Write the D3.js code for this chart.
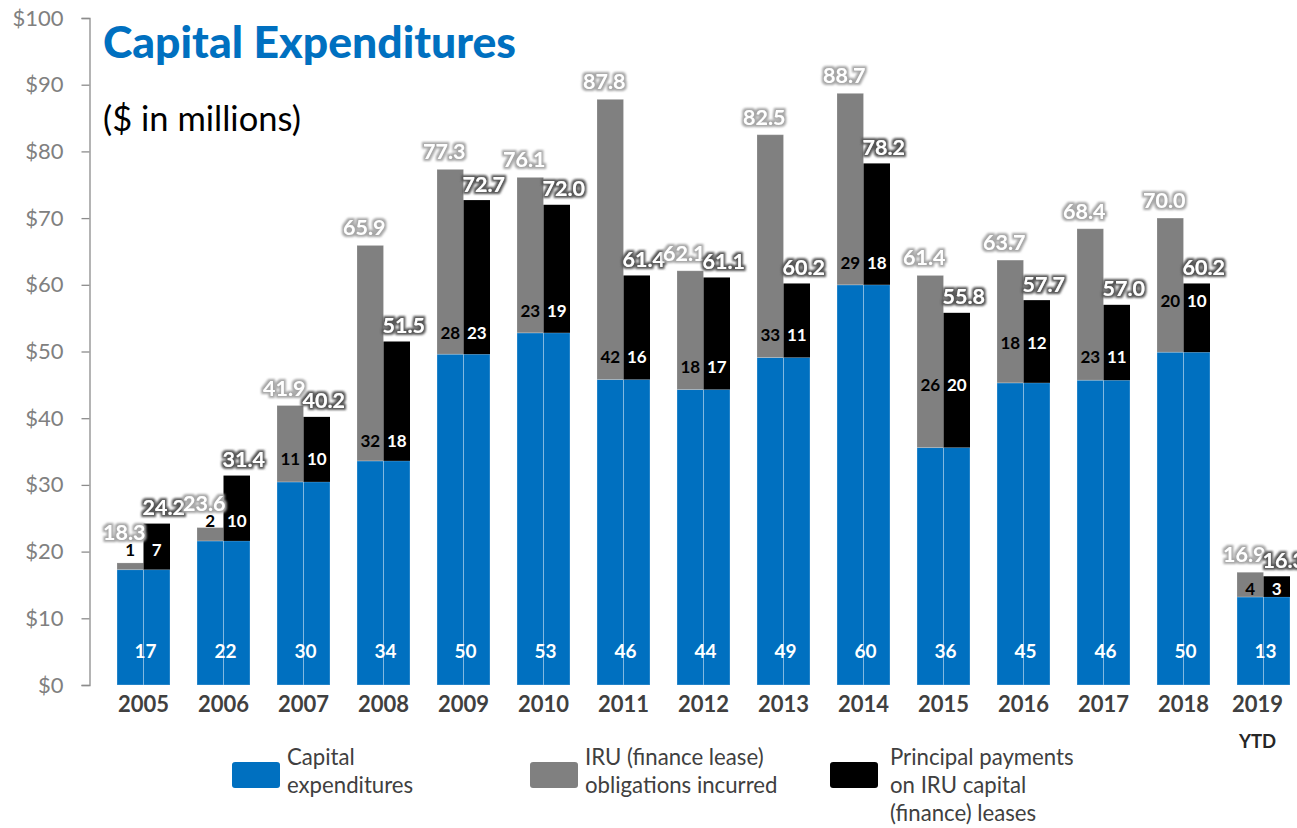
<!DOCTYPE html>
<html>
<head>
<meta charset="utf-8">
<script src="https://cdn.jsdelivr.net/npm/d3@7"></script>
<style>
  html, body { margin: 0; padding: 0; background: #fff; }
  svg { display: block; font-family: Lato, "Open Sans", sans-serif; }
</style>
</head>
<body>
<svg id="chart" width="1297" height="828"></svg>
<script>
// Capital expenditures by year ($ in millions)
const years = ["2005","2006","2007","2008","2009","2010","2011","2012","2013","2014","2015","2016","2017","2018","2019"];
const yearNotes = ["","","","","","","","","","","","","","","YTD"];
const capex = [17.3, 21.6, 30.45, 33.6, 49.6, 52.8, 45.8, 44.3, 49.1, 60.0, 35.6, 45.3, 45.7, 49.9, 13.2];
const iru = [1.0, 2.0, 11.45, 32.3, 27.7, 23.3, 42.0, 17.8, 33.4, 28.7, 25.8, 18.4, 22.7, 20.1, 3.7];
const principal = [6.9, 9.8, 9.75, 17.9, 23.1, 19.2, 15.6, 16.8, 11.1, 18.2, 20.2, 12.4, 11.3, 10.3, 3.1];
const yTicks = [0, 10, 20, 30, 40, 50, 60, 70, 80, 90, 100];

// Height (in $M) at which the IRU / principal labels sit inside each pair of bars
const segLabelAt = [20.3, 24.7, 33.9, 36.7, 52.8, 56.1, 49.3, 47.8, 52.5, 63.3, 45.0, 51.4, 49.2, 57.6, 14.5];
const capexLabelAt = 5.2;

const colors = { capex: "#0070c0", iru: "#808080", principal: "#000000" };
const legendItems = [
  { key: "capex", lines: ["Capital", "expenditures"] },
  { key: "iru", lines: ["IRU (finance lease)", "obligations incurred"] },
  { key: "principal", lines: ["Principal payments", "on IRU capital", "(finance) leases"] }
];

const svg = d3.select("#chart");

const y = d3.scaleLinear().domain([0, 100]).range([685, 18]);
const x = d3.scaleBand().domain(years).range([103.5, 1303.5]).paddingInner(0.3375).paddingOuter(0.16875);
const sub = d3.scaleBand().domain(["left", "right"]).range([0, x.bandwidth()]);

// glow filters for total labels
const defs = svg.append("defs");
function glow(id, color) {
  const f = defs.append("filter").attr("id", id).attr("x", "-20%").attr("y", "-30%").attr("width", "140%").attr("height", "160%");
  f.append("feMorphology").attr("in", "SourceAlpha").attr("operator", "dilate").attr("radius", 1.7).attr("result", "thick");
  f.append("feFlood").attr("flood-color", color).attr("result", "col");
  f.append("feComposite").attr("in", "col").attr("in2", "thick").attr("operator", "in").attr("result", "halo");
  f.append("feGaussianBlur").attr("in", "halo").attr("stdDeviation", 1).attr("result", "soft");
  const m = f.append("feMerge");
  m.append("feMergeNode").attr("in", "soft");
  m.append("feMergeNode").attr("in", "SourceGraphic");
}
glow("glowLight", "#a6a6a6");
glow("glowDark", "#555555");

// y axis
const yAxis = svg.append("g").attr("transform", "translate(89.5,0)")
  .call(d3.axisLeft(y).tickValues(yTicks).tickSize(8).tickPadding(18).tickFormat(d => "$" + d));
yAxis.select(".domain").attr("stroke", "#8c8c8c").attr("stroke-width", 1.3);
yAxis.selectAll(".tick line").attr("stroke", "#8c8c8c").attr("stroke-width", 1.3);
yAxis.selectAll(".tick text").attr("fill", "#808080").attr("font-size", 22)
  .attr("font-family", "Lato, sans-serif");

// bars
const rows = years.map((yr, i) => ({
  yr, i, capex: capex[i], iru: iru[i], principal: principal[i],
  leftTotal: capex[i] + iru[i], rightTotal: capex[i] + principal[i]
}));

const g = svg.append("g");
const groups = g.selectAll("g.year").data(rows).join("g")
  .attr("class", "year").attr("transform", d => `translate(${x(d.yr)},0)`);

const edge = "rgba(255,255,255,0.28)";
function bar(sel, side, lo, hi, color, stroke) {
  sel.append("rect")
    .attr("x", sub(side)).attr("width", sub.bandwidth())
    .attr("y", d => y(hi(d))).attr("height", d => y(lo(d)) - y(hi(d)))
    .attr("fill", color).attr("stroke", stroke).attr("stroke-width", 1);
}
bar(groups, "left", d => 0, d => d.capex, colors.capex, edge);
bar(groups, "right", d => 0, d => d.capex, colors.capex, edge);
bar(groups, "left", d => d.capex, d => d.leftTotal, colors.iru, "rgba(255,255,255,0.18)");
bar(groups, "right", d => d.capex, d => d.rightTotal, colors.principal, "none");

const fmtInt = v => String(Math.round(v));
const fmtTot = d3.format(".1f");

// capex labels
groups.append("text")
  .attr("x", x.bandwidth() / 2 + 2).attr("y", y(capexLabelAt))
  .attr("text-anchor", "middle").attr("dominant-baseline", "central")
  .attr("font-size", 19).attr("font-weight", 700).attr("fill", "#fff")
  .text(d => fmtInt(d.capex));

// IRU and principal labels
groups.append("text")
  .attr("x", sub("left") + sub.bandwidth() / 2).attr("y", d => y(segLabelAt[d.i]))
  .attr("text-anchor", "middle").attr("dominant-baseline", "central")
  .attr("font-size", 17).attr("font-weight", 700).attr("fill", "#000")
  .text(d => fmtInt(d.iru));
groups.append("text")
  .attr("x", sub("right") + sub.bandwidth() / 2).attr("y", d => y(segLabelAt[d.i]))
  .attr("text-anchor", "middle").attr("dominant-baseline", "central")
  .attr("font-size", 17).attr("font-weight", 700).attr("fill", "#fff")
  .text(d => fmtInt(d.principal));

// totals above each bar
groups.append("text")
  .attr("x", sub("left") + sub.bandwidth() / 2 - 6)
  .attr("y", d => Math.min(y(d.leftTotal) - 18, y(segLabelAt[d.i]) - 17.5))
  .attr("text-anchor", "middle").attr("dominant-baseline", "central")
  .attr("font-size", 21.5).attr("font-weight", 700).attr("fill", "#fff")
  .attr("filter", "url(#glowLight)")
  .text(d => fmtTot(d.leftTotal));
groups.append("text")
  .attr("x", sub("right") + sub.bandwidth() / 2 + 7)
  .attr("y", d => y(d.rightTotal) - 16.5)
  .attr("text-anchor", "middle").attr("dominant-baseline", "central")
  .attr("font-size", 21.5).attr("font-weight", 700).attr("fill", "#fff")
  .attr("filter", "url(#glowDark)")
  .text(d => fmtTot(d.rightTotal));

// year labels (a year with a note is set as a two-line label, shifted slightly left)
const yearX = d => x.bandwidth() / 2 - (yearNotes[d.i] ? 6 : 0);
groups.append("text")
  .attr("x", yearX).attr("y", 712)
  .attr("text-anchor", "middle")
  .attr("font-size", 22).attr("font-weight", 700).attr("fill", "#404040")
  .text(d => d.yr);
groups.filter(d => yearNotes[d.i]).append("text")
  .attr("x", yearX).attr("y", 748)
  .attr("text-anchor", "middle")
  .attr("font-size", 18.5).attr("font-weight", 700).attr("fill", "#262626")
  .text(d => yearNotes[d.i]);

// title
svg.append("text").attr("x", 103).attr("y", 58)
  .attr("font-size", 44.5).attr("font-weight", 900).attr("fill", "#0070c0")
  .text("Capital Expenditures");
svg.append("text").attr("x", 103).attr("y", 131)
  .attr("font-size", 34.5).attr("fill", "#000")
  .text("($ in millions)");

// legend
const legendX = [232, 530, 830];
const legendTextX = [287, 585, 890];
const lg = svg.append("g").selectAll("g").data(legendItems).join("g");
lg.append("rect").attr("x", (d, i) => legendX[i]).attr("y", 762).attr("width", 48).attr("height", 26).attr("rx", 3)
  .attr("fill", d => colors[d.key]);
lg.each(function(d, i) {
  const t = d3.select(this).append("text").attr("x", legendTextX[i]).attr("y", 765)
    .attr("font-size", 22.2).attr("fill", "#404040");
  d.lines.forEach((ln, k) => t.append("tspan").attr("x", legendTextX[i]).attr("y", 765 + k * 28).text(ln));
});
</script>
</body>
</html>
